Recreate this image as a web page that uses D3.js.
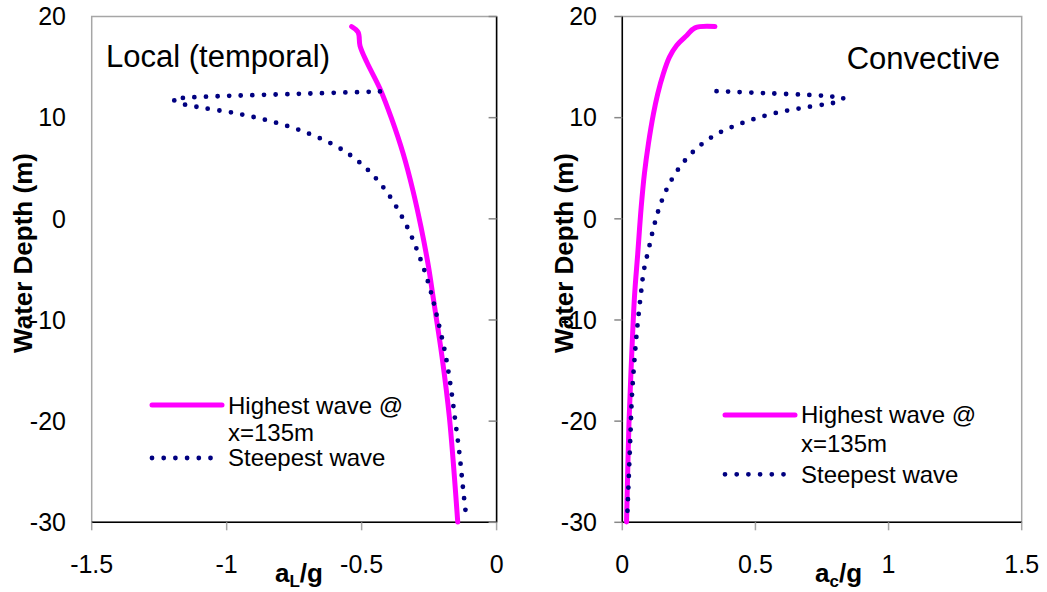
<!DOCTYPE html>
<html>
<head>
<meta charset="utf-8">
<script src="https://cdn.jsdelivr.net/npm/d3@7"></script>
<style>
  body { margin: 0; background: #fff; }
  svg { display: block; font-family: "Liberation Sans", Arial, sans-serif; }
</style>
</head>
<body>
<svg id="canvas"></svg>
<script>
// --- data: [acceleration / g, water depth (m)] ---
const localHighest = [
  [-0.537, 19.0], [-0.513, 18.45], [-0.506, 17.1], [-0.481, 15.5], [-0.432, 12.86],
  [-0.389, 9.9], [-0.346, 6.43], [-0.310, 2.8], [-0.280, -0.82], [-0.252, -4.77],
  [-0.236, -7.6], [-0.202, -13.67], [-0.175, -19.6], [-0.144, -29.97]
];
const localSteepest = [
  [-0.432, 12.59], [-0.728, 12.36], [-1.029, 12.12], [-1.157, 11.96], [-1.198, 11.83],
  [-1.173, 11.43], [-1.090, 10.98], [-0.963, 10.42], [-0.839, 9.66], [-0.716, 8.64],
  [-0.599, 7.25], [-0.527, 6.0], [-0.464, 4.49], [-0.409, 2.74], [-0.363, 0.80],
  [-0.324, -1.21], [-0.291, -3.35], [-0.263, -5.46], [-0.239, -7.67], [-0.219, -9.87],
  [-0.191, -13.2], [-0.170, -16.56], [-0.153, -19.99], [-0.137, -23.35], [-0.124, -26.74],
  [-0.111, -29.8]
];
const convHighest = [
  [0.348, 19.0], [0.273, 18.88], [0.242, 18.12], [0.204, 17.13], [0.177, 15.98],
  [0.154, 14.34], [0.133, 12.36], [0.117, 10.39], [0.098, 7.42], [0.083, 4.46],
  [0.071, 1.16], [0.058, -3.45], [0.046, -7.6], [0.035, -13.66], [0.025, -20.25],
  [0.016, -29.97]
];
const convSteepest = [
  [0.354, 12.62], [0.530, 12.43], [0.742, 12.19], [0.786, 12.09], [0.830, 11.96],
  [0.815, 11.6], [0.771, 11.37], [0.686, 11.0], [0.601, 10.61], [0.517, 10.05],
  [0.436, 9.33], [0.357, 8.41], [0.285, 7.09], [0.227, 5.5], [0.179, 3.57],
  [0.144, 1.49], [0.119, -0.72], [0.100, -2.89], [0.081, -5.1], [0.070, -7.4],
  [0.056, -10.8], [0.045, -14.19], [0.036, -17.62], [0.031, -21.04], [0.026, -24.44],
  [0.021, -27.83], [0.018, -29.8]
];
const depthTicks = [20, 10, 0, -10, -20, -30];
const localTicks = [-1.5, -1, -0.5, 0];
const convTicks = [0, 0.5, 1, 1.5];
const legendLabels = ["Highest wave @", "x=135m", "Steepest wave"];

const svg = d3.select("#canvas")
  .attr("width", 1047)
  .attr("height", 592);

const pink = "#ff00ff";
const navy = "#000080";
const grey = "#a6a6a6";

const y = d3.scaleLinear().domain([-30, 20]).range([522.3, 16.5]);

function drawPanel(p) {
  const x = d3.scaleLinear().domain(p.domain).range([p.left, p.right]);
  const g = svg.append("g");

  // plot area border
  g.append("rect")
    .attr("x", p.left).attr("y", y(20))
    .attr("width", p.right - p.left).attr("height", y(-30) - y(20))
    .attr("fill", "none").attr("stroke", grey).attr("stroke-width", 1.5);

  // x axis (bottom, black) with grey ticks pointing down
  g.append("line")
    .attr("x1", p.left).attr("x2", p.right)
    .attr("y1", y(-30)).attr("y2", y(-30))
    .attr("stroke", "#000").attr("stroke-width", 1.5);
  g.selectAll(".xt").data(p.ticks).join("line")
    .attr("x1", d => x(d)).attr("x2", d => x(d))
    .attr("y1", y(-30)).attr("y2", y(-30) + 8)
    .attr("stroke", grey).attr("stroke-width", 1.5);
  g.selectAll(".xl").data(p.ticks).join("text")
    .attr("x", d => x(d)).attr("y", 572.7)
    .attr("text-anchor", "middle").attr("font-size", 25)
    .text(d => d);

  // y axis sits at x = 0, ticks pointing left
  const ax = x(0);
  g.append("line")
    .attr("x1", ax).attr("x2", ax)
    .attr("y1", y(20)).attr("y2", y(-30))
    .attr("stroke", "#000").attr("stroke-width", 1.5);
  g.selectAll(".yt").data(depthTicks).join("line")
    .attr("x1", ax - 8).attr("x2", ax)
    .attr("y1", d => y(d)).attr("y2", d => y(d))
    .attr("stroke", "#888").attr("stroke-width", 1.5);

  // curves
  const line = d3.line()
    .x(d => x(d[0])).y(d => y(d[1]))
    .curve(d3.curveCatmullRom.alpha(0.5));
  g.append("path").datum(p.highest)
    .attr("d", line).attr("fill", "none")
    .attr("stroke", pink).attr("stroke-width", 5)
    .attr("stroke-linecap", "round").attr("stroke-linejoin", "round");
  g.append("path").datum(p.steepest)
    .attr("d", line).attr("fill", "none")
    .attr("stroke", navy).attr("stroke-width", 4.8)
    .attr("stroke-linecap", "round").attr("stroke-dasharray", "0 11.6");

  // y tick labels (low position, left of plot)
  g.selectAll(".yl").data(depthTicks).join("text")
    .attr("x", p.yLabelX).attr("y", d => y(d))
    .attr("dy", "0.35em")
    .attr("text-anchor", "end").attr("font-size", 25)
    .text(d => d);

  // y title
  g.append("text")
    .attr("transform", `translate(${p.yTitleX},253) rotate(-90)`)
    .attr("text-anchor", "middle")
    .attr("font-size", 26).attr("font-weight", "bold")
    .text("Water Depth (m)");

  // x title with subscript
  const xt = g.append("text")
    .attr("x", p.xTitleX).attr("y", 581.7)
    .attr("font-size", 26).attr("font-weight", "bold");
  xt.append("tspan").text("a");
  xt.append("tspan").attr("font-size", 17).attr("dy", 5).text(p.sub);
  xt.append("tspan").attr("dy", -5).text("/g");

  // panel label
  g.append("text")
    .attr("x", p.titleX).attr("y", p.titleY)
    .attr("font-size", 31)
    .text(p.title);

  // legend
  const L = p.legend;
  g.append("line")
    .attr("x1", L.x).attr("x2", L.x + 70)
    .attr("y1", L.lineY1).attr("y2", L.lineY1)
    .attr("stroke", pink).attr("stroke-width", 5).attr("stroke-linecap", "round");
  g.append("line")
    .attr("x1", L.x).attr("x2", L.x + 60)
    .attr("y1", L.lineY2).attr("y2", L.lineY2)
    .attr("stroke", navy).attr("stroke-width", 4.8)
    .attr("stroke-linecap", "round").attr("stroke-dasharray", "0 11.7");
  g.selectAll(".lg").data(legendLabels).join("text")
    .attr("x", L.x + 76).attr("y", (d, i) => L.textY[i])
    .attr("font-size", 24)
    .text(d => d);
}

drawPanel({
  domain: [-1.5, 0], left: 91.7, right: 496.6, ticks: localTicks,
  highest: localHighest, steepest: localSteepest,
  yLabelX: 66, yTitleX: 32, xTitleX: 275, sub: "L",
  title: "Local (temporal)", titleX: 106, titleY: 67,
  legend: { x: 152, lineY1: 405, lineY2: 458, textY: [414, 440.7, 466] }
});

drawPanel({
  domain: [0, 1.5], left: 622.3, right: 1021.7, ticks: convTicks,
  highest: convHighest, steepest: convSteepest,
  yLabelX: 597, yTitleX: 573, xTitleX: 815, sub: "c",
  title: "Convective", titleX: 846.7, titleY: 69,
  legend: { x: 725, lineY1: 415, lineY2: 474.3, textY: [423.3, 451.7, 482.7] }
});
</script>
</body>
</html>
